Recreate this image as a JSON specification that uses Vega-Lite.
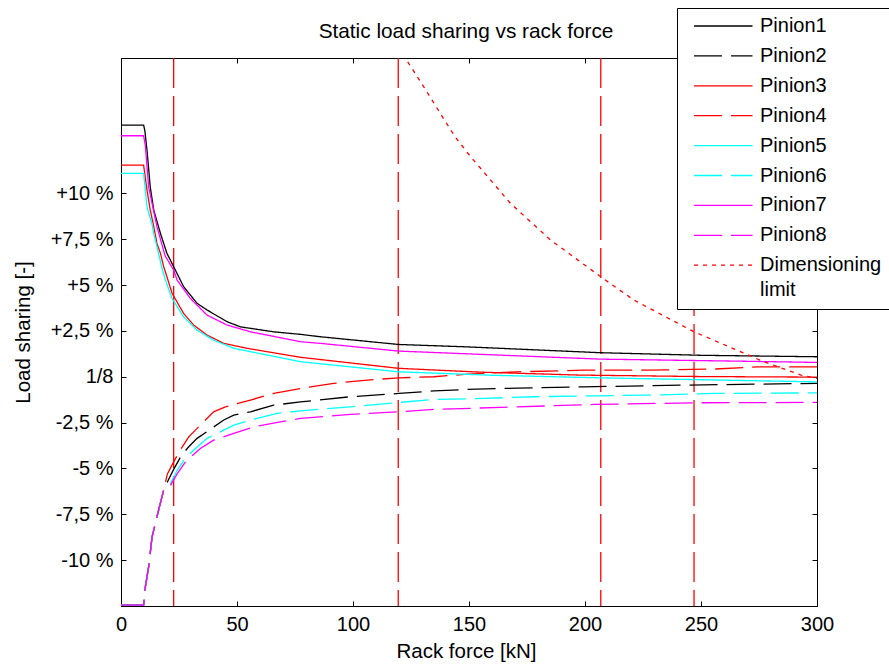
{
  "$schema": "https://vega.github.io/schema/vega-lite/v6.json",
  "autosize": {"type": "none"},
  "padding": {"left": 121, "top": 58, "right": 72, "bottom": 60},
  "width": 696,
  "height": 548,
  "background": "white",
  "title": {"text": "Static load sharing vs rack force", "fontSize": 20.8, "font": "Liberation Sans", "fontWeight": "normal", "color": "#000", "anchor": "middle", "frame": "group", "baseline": "alphabetic", "offset": -51, "dx": -3},
  "config": {
    "font": "Liberation Sans",
    "view": {"stroke": "#000", "strokeWidth": 1},
    "style": {"guide-label": {"lineHeight": 25}},
    "axis": {"grid": false, "domainColor": "#000", "tickColor": "#000", "labelColor": "#000", "titleColor": "#000", "labelFont": "Liberation Sans", "titleFont": "Liberation Sans", "labelFontSize": 20, "titleFontSize": 20.5, "titleFontWeight": "normal", "tickSize": -5, "labelPadding": 13, "labelFlush": false}
  },
  "datasets": {
    "lines": [
      {"s":"Pinion1","x":0,"y":13.72},{"s":"Pinion1","x":9.75,"y":13.72},{"s":"Pinion1","x":10.3,"y":13.4},{"s":"Pinion1","x":11.2,"y":12.36},{"s":"Pinion1","x":12.6,"y":10.36},{"s":"Pinion1","x":14.1,"y":9.09},{"s":"Pinion1","x":17.0,"y":7.82},{"s":"Pinion1","x":19.8,"y":6.73},{"s":"Pinion1","x":22.7,"y":6.0},{"s":"Pinion1","x":27.0,"y":4.91},{"s":"Pinion1","x":32.8,"y":4.0},{"s":"Pinion1","x":37.1,"y":3.64},{"s":"Pinion1","x":45.7,"y":3.0},{"s":"Pinion1","x":51.5,"y":2.72},{"s":"Pinion1","x":55.8,"y":2.64},{"s":"Pinion1","x":65.8,"y":2.45},{"s":"Pinion1","x":77.4,"y":2.31},{"s":"Pinion1","x":86.0,"y":2.18},{"s":"Pinion1","x":119.6,"y":1.76},{"s":"Pinion1","x":149,"y":1.63},{"s":"Pinion1","x":206.8,"y":1.31},{"s":"Pinion1","x":250,"y":1.17},{"s":"Pinion1","x":300,"y":1.09},

      {"s":"Pinion2","x":0,"y":-12.45},{"s":"Pinion2","x":9.75,"y":-12.45},{"s":"Pinion2","x":10.5,"y":-11.46},{"s":"Pinion2","x":11.9,"y":-10.37},{"s":"Pinion2","x":13.4,"y":-8.73},{"s":"Pinion2","x":14.8,"y":-8.0},{"s":"Pinion2","x":16.2,"y":-7.27},{"s":"Pinion2","x":18.4,"y":-6.18},{"s":"Pinion2","x":20.5,"y":-5.6},{"s":"Pinion2","x":22.7,"y":-5.05},{"s":"Pinion2","x":26,"y":-4.3},{"s":"Pinion2","x":29.2,"y":-3.82},{"s":"Pinion2","x":32.8,"y":-3.36},{"s":"Pinion2","x":44.3,"y":-2.36},{"s":"Pinion2","x":48.6,"y":-2.09},{"s":"Pinion2","x":55.8,"y":-1.91},{"s":"Pinion2","x":65.8,"y":-1.55},{"s":"Pinion2","x":77.4,"y":-1.37},{"s":"Pinion2","x":98.9,"y":-1.09},{"s":"Pinion2","x":119.8,"y":-0.91},{"s":"Pinion2","x":134.9,"y":-0.77},{"s":"Pinion2","x":149.3,"y":-0.69},{"s":"Pinion2","x":170.8,"y":-0.62},{"s":"Pinion2","x":199.6,"y":-0.55},{"s":"Pinion2","x":241.3,"y":-0.46},{"s":"Pinion2","x":300,"y":-0.36},

      {"s":"Pinion3","x":0,"y":11.54},{"s":"Pinion3","x":9.75,"y":11.54},{"s":"Pinion3","x":11.2,"y":10.18},{"s":"Pinion3","x":12.6,"y":9.09},{"s":"Pinion3","x":14.1,"y":8.2},{"s":"Pinion3","x":15.5,"y":7.27},{"s":"Pinion3","x":17.0,"y":6.73},{"s":"Pinion3","x":18.4,"y":6.0},{"s":"Pinion3","x":19.8,"y":5.45},{"s":"Pinion3","x":22.0,"y":4.55},{"s":"Pinion3","x":27.0,"y":3.45},{"s":"Pinion3","x":31.3,"y":2.82},{"s":"Pinion3","x":37.1,"y":2.27},{"s":"Pinion3","x":44.3,"y":1.82},{"s":"Pinion3","x":54.4,"y":1.55},{"s":"Pinion3","x":77.4,"y":1.06},{"s":"Pinion3","x":119.6,"y":0.46},{"s":"Pinion3","x":155,"y":0.25},{"s":"Pinion3","x":198,"y":0.09},{"s":"Pinion3","x":250,"y":0.01},{"s":"Pinion3","x":300,"y":-0.02},

      {"s":"Pinion4","x":0,"y":-12.45},{"s":"Pinion4","x":9.75,"y":-12.45},{"s":"Pinion4","x":10.5,"y":-11.46},{"s":"Pinion4","x":11.9,"y":-10.37},{"s":"Pinion4","x":13.4,"y":-8.73},{"s":"Pinion4","x":14.8,"y":-8.0},{"s":"Pinion4","x":16.2,"y":-7.27},{"s":"Pinion4","x":18.4,"y":-6.18},{"s":"Pinion4","x":20.0,"y":-5.3},{"s":"Pinion4","x":22.7,"y":-4.64},{"s":"Pinion4","x":26,"y":-3.9},{"s":"Pinion4","x":29.2,"y":-3.28},{"s":"Pinion4","x":39.9,"y":-1.91},{"s":"Pinion4","x":45.0,"y":-1.64},{"s":"Pinion4","x":55.8,"y":-1.27},{"s":"Pinion4","x":65.8,"y":-0.91},{"s":"Pinion4","x":77.4,"y":-0.64},{"s":"Pinion4","x":91.7,"y":-0.36},{"s":"Pinion4","x":106.1,"y":-0.18},{"s":"Pinion4","x":119.8,"y":-0.06},{"s":"Pinion4","x":134.9,"y":0.0},{"s":"Pinion4","x":149.3,"y":0.14},{"s":"Pinion4","x":170.8,"y":0.27},{"s":"Pinion4","x":199.6,"y":0.36},{"s":"Pinion4","x":226.9,"y":0.36},{"s":"Pinion4","x":255.7,"y":0.42},{"s":"Pinion4","x":274.4,"y":0.54},{"s":"Pinion4","x":300,"y":0.54},

      {"s":"Pinion5","x":0,"y":11.09},{"s":"Pinion5","x":9.75,"y":11.09},{"s":"Pinion5","x":10.5,"y":10.18},{"s":"Pinion5","x":11.2,"y":9.27},{"s":"Pinion5","x":13.4,"y":8.3},{"s":"Pinion5","x":14.1,"y":7.8},{"s":"Pinion5","x":16.2,"y":6.73},{"s":"Pinion5","x":17.7,"y":5.9},{"s":"Pinion5","x":19.1,"y":5.3},{"s":"Pinion5","x":22.0,"y":4.27},{"s":"Pinion5","x":27.0,"y":3.27},{"s":"Pinion5","x":32.8,"y":2.54},{"s":"Pinion5","x":39.9,"y":2.0},{"s":"Pinion5","x":48.6,"y":1.55},{"s":"Pinion5","x":77.4,"y":0.82},{"s":"Pinion5","x":119.6,"y":0.27},{"s":"Pinion5","x":160,"y":0.08},{"s":"Pinion5","x":206.8,"y":-0.06},{"s":"Pinion5","x":300,"y":-0.28},

      {"s":"Pinion6","x":0,"y":-12.45},{"s":"Pinion6","x":9.75,"y":-12.45},{"s":"Pinion6","x":10.5,"y":-11.46},{"s":"Pinion6","x":11.9,"y":-10.37},{"s":"Pinion6","x":13.4,"y":-8.73},{"s":"Pinion6","x":14.8,"y":-8.0},{"s":"Pinion6","x":16.2,"y":-7.27},{"s":"Pinion6","x":18.4,"y":-6.18},{"s":"Pinion6","x":21.0,"y":-5.9},{"s":"Pinion6","x":24.2,"y":-5.1},{"s":"Pinion6","x":28,"y":-4.4},{"s":"Pinion6","x":32.1,"y":-3.91},{"s":"Pinion6","x":37.1,"y":-3.36},{"s":"Pinion6","x":48.6,"y":-2.64},{"s":"Pinion6","x":55.8,"y":-2.36},{"s":"Pinion6","x":67.3,"y":-2.0},{"s":"Pinion6","x":77.4,"y":-1.86},{"s":"Pinion6","x":98.9,"y":-1.64},{"s":"Pinion6","x":119.8,"y":-1.4},{"s":"Pinion6","x":134.9,"y":-1.24},{"s":"Pinion6","x":156.4,"y":-1.18},{"s":"Pinion6","x":178.0,"y":-1.09},{"s":"Pinion6","x":203.9,"y":-1.04},{"s":"Pinion6","x":226.9,"y":-1.0},{"s":"Pinion6","x":255.7,"y":-0.91},{"s":"Pinion6","x":300,"y":-0.88},

      {"s":"Pinion7","x":0,"y":13.14},{"s":"Pinion7","x":9.75,"y":13.14},{"s":"Pinion7","x":10.5,"y":12.6},{"s":"Pinion7","x":11.9,"y":10.36},{"s":"Pinion7","x":15.5,"y":8.18},{"s":"Pinion7","x":19.0,"y":6.6},{"s":"Pinion7","x":22.7,"y":5.82},{"s":"Pinion7","x":24.2,"y":5.27},{"s":"Pinion7","x":29.9,"y":4.27},{"s":"Pinion7","x":37.1,"y":3.36},{"s":"Pinion7","x":45.7,"y":2.82},{"s":"Pinion7","x":55.8,"y":2.45},{"s":"Pinion7","x":77.4,"y":1.91},{"s":"Pinion7","x":86.0,"y":1.82},{"s":"Pinion7","x":119.6,"y":1.4},{"s":"Pinion7","x":206.8,"y":0.96},{"s":"Pinion7","x":271.5,"y":0.84},{"s":"Pinion7","x":300,"y":0.78},

      {"s":"Pinion8","x":0,"y":-12.45},{"s":"Pinion8","x":9.75,"y":-12.45},{"s":"Pinion8","x":10.5,"y":-11.46},{"s":"Pinion8","x":11.9,"y":-10.37},{"s":"Pinion8","x":13.4,"y":-8.73},{"s":"Pinion8","x":14.8,"y":-8.0},{"s":"Pinion8","x":16.2,"y":-7.27},{"s":"Pinion8","x":18.4,"y":-6.18},{"s":"Pinion8","x":21.0,"y":-6.0},{"s":"Pinion8","x":24.2,"y":-5.3},{"s":"Pinion8","x":28,"y":-4.6},{"s":"Pinion8","x":34.2,"y":-3.91},{"s":"Pinion8","x":39.9,"y":-3.46},{"s":"Pinion8","x":48.6,"y":-3.09},{"s":"Pinion8","x":57.2,"y":-2.73},{"s":"Pinion8","x":68.7,"y":-2.46},{"s":"Pinion8","x":77.4,"y":-2.27},{"s":"Pinion8","x":98.9,"y":-2.05},{"s":"Pinion8","x":119.8,"y":-1.91},{"s":"Pinion8","x":134.9,"y":-1.78},{"s":"Pinion8","x":163.6,"y":-1.67},{"s":"Pinion8","x":203.9,"y":-1.51},{"s":"Pinion8","x":247.0,"y":-1.42},{"s":"Pinion8","x":300,"y":-1.4},

      {"s":"Dimensioning limit","x":121.5,"y":17.58},{"s":"Dimensioning limit","x":130.5,"y":15.81},{"s":"Dimensioning limit","x":138.5,"y":14.18},{"s":"Dimensioning limit","x":144.2,"y":13.05},{"s":"Dimensioning limit","x":150.7,"y":12.0},{"s":"Dimensioning limit","x":167.9,"y":9.45},{"s":"Dimensioning limit","x":185.2,"y":7.45},{"s":"Dimensioning limit","x":206.8,"y":5.45},{"s":"Dimensioning limit","x":221.1,"y":4.18},{"s":"Dimensioning limit","x":247.0,"y":2.45},{"s":"Dimensioning limit","x":267.2,"y":1.36},{"s":"Dimensioning limit","x":276.5,"y":0.85},{"s":"Dimensioning limit","x":293.1,"y":0.09},{"s":"Dimensioning limit","x":300,"y":-0.09}
    ],
    "limits": [{"x": 22.7}, {"x": 119.5}, {"x": 206.8}, {"x": 247.0}]
  },
  "resolve": {"axis": {"x": "independent", "y": "independent"}},
  "layer": [
    {
      "data": {"name": "limits"},
      "mark": {"type": "rule", "color": "#ff0000", "strokeWidth": 1.3, "strokeDash": [30, 8]},
      "encoding": {
        "x": {"field": "x", "type": "quantitative", "scale": {"domain": [0, 300], "nice": false}, "axis": null}
      }
    },
    {
      "data": {"name": "lines"},
      "transform": [{"filter": {"field": "s", "oneOf": ["Pinion1", "Pinion2", "Pinion3", "Pinion4"]}}],
      "mark": {"type": "line", "clip": true, "strokeWidth": 1.3},
      "encoding": {
        "x": {"field": "x", "type": "quantitative", "scale": {"domain": [0, 300], "nice": false},
          "axis": {"orient": "bottom", "values": [0, 50, 100, 150, 200, 250, 300], "title": "Rack force [kN]", "titleX": 345, "titleY": 51.7, "titleBaseline": "alphabetic", "titleAnchor": "middle"}},
        "y": {"field": "y", "type": "quantitative", "scale": {"domain": [-12.5, 17.38], "nice": false, "zero": false},
          "axis": {"orient": "left", "values": [-10, -7.5, -5, -2.5, 0, 2.5, 5, 7.5, 10], "labelExpr": "datum.value == 0 ? '1/8' : (datum.value > 0 ? '+' : '') + replace(toString(datum.value), '.', ',') + ' %'", "title": "Load sharing [-]", "titleX": -98, "titleY": 274, "titleAngle": -90, "titleBaseline": "middle", "titleAlign": "center"}},
        "color": {"field": "s", "type": "nominal",
          "scale": {"domain": ["Pinion1", "Pinion2", "Pinion3", "Pinion4", "Pinion5", "Pinion6", "Pinion7", "Pinion8", "Dimensioning limit"], "range": ["#000000", "#000000", "#ff0000", "#ff0000", "#00ffff", "#00ffff", "#ff00ff", "#ff00ff", "#ff0000"]},
          "legend": {"title": null, "orient": "none", "legendX": 556, "legendY": -50, "symbolType": "M-1,0H10.7", "symbolSize": 100, "symbolStrokeWidth": 1.3, "symbolOffset": 4, "labelOffset": 51, "labelFontSize": 20, "labelFont": "Liberation Sans", "labelColor": "#000", "labelLimit": 300, "labelExpr": "datum.label == 'Dimensioning limit' ? ['Dimensioning', 'limit'] : datum.label", "rowPadding": 9.9, "padding": 8, "strokeColor": "#000", "fillColor": "#fff"}},
        "strokeDash": {"field": "s", "type": "nominal",
          "scale": {"domain": ["Pinion1", "Pinion2", "Pinion3", "Pinion4", "Pinion5", "Pinion6", "Pinion7", "Pinion8", "Dimensioning limit"], "range": [[1, 0], [28, 9], [1, 0], [28, 9], [1, 0], [28, 9], [1, 0], [28, 9], [4, 5]]},
          "legend": {"title": null, "orient": "none", "legendX": 556, "legendY": -50, "symbolType": "M-1,0H10.7", "symbolSize": 100, "symbolStrokeWidth": 1.3, "symbolOffset": 4, "labelOffset": 51, "labelFontSize": 20, "labelFont": "Liberation Sans", "labelColor": "#000", "labelLimit": 300, "labelExpr": "datum.label == 'Dimensioning limit' ? ['Dimensioning', 'limit'] : datum.label", "rowPadding": 9.9, "padding": 8, "strokeColor": "#000", "fillColor": "#fff"}}
      }
    },
    {
      "data": {"name": "lines"},
      "transform": [{"filter": {"field": "s", "oneOf": ["Pinion5", "Pinion6", "Pinion7", "Pinion8", "Dimensioning limit"]}}],
      "mark": {"type": "line", "clip": true, "strokeWidth": 1.3},
      "encoding": {
        "x": {"field": "x", "type": "quantitative", "scale": {"domain": [0, 300], "nice": false},
          "axis": {"orient": "top", "values": [0, 50, 100, 150, 200, 250, 300], "labels": false, "title": null}},
        "y": {"field": "y", "type": "quantitative", "scale": {"domain": [-12.5, 17.38], "nice": false, "zero": false},
          "axis": {"orient": "right", "values": [-10, -7.5, -5, -2.5, 0, 2.5, 5, 7.5, 10], "labels": false, "title": null}},
        "color": {"field": "s", "type": "nominal"},
        "strokeDash": {"field": "s", "type": "nominal"}
      }
    }
  ]
}
